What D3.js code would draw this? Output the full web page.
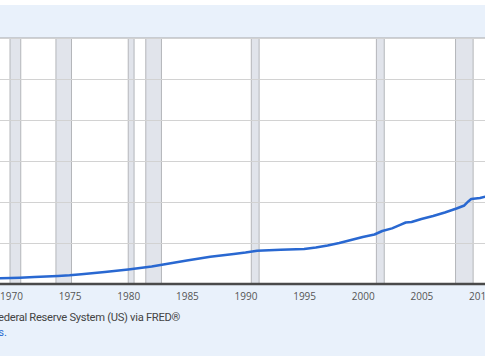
<!DOCTYPE html>
<html>
<head>
<meta charset="utf-8">
<script src="https://cdn.jsdelivr.net/npm/d3@7"></script>
<style>
  html, body { margin: 0; padding: 0; background: #ffffff; }
  svg { display: block; }
</style>
</head>
<body>
<svg id="chart" width="485" height="360"></svg>
<script>
// ---- data ----
const dates = ["1969-01","1970-01","1970-10","1972-01","1974-01","1975-01","1976-01","1978-01",
  "1980-01","1982-01","1983-01","1985-01","1987-01","1989-01","1990-01","1991-01","1993-01",
  "1995-01","1996-01","1997-01","1998-01","1999-01","2000-01","2001-01","2001-09","2002-07",
  "2003-04","2003-09","2004-03","2005-01","2006-01","2007-01","2008-01","2008-09","2009-01",
  "2009-04","2010-01","2010-07"];
const values = [556,585,615,680,780,850,950,1170,
  1415,1710,1900,2290,2660,2930,3070,3240,3340,
  3415,3560,3760,4000,4290,4590,4830,5170,5430,
  5800,6000,6050,6340,6630,6980,7370,7660,8050,
  8290,8390,8540];
const tickYears = [1970,1975,1980,1985,1990,1995,2000,2005,2010];
const yTicks = [0,4000,8000,12000,16000,20000,24000];
const recessions = [["1969-12","1970-11"],["1973-11","1975-03"],["1980-01","1980-07"],
  ["1981-07","1982-11"],["1990-07","1991-03"],["2001-03","2001-11"],["2007-12","2009-06"]];
const sourceLine = "Source: Board of Governors of the Federal Reserve System (US) via FRED®";
const noteLine = "Shaded areas indicate U.S. recessions.";

// ---- drawing ----
const W = 485, H = 360;
const parse = d3.timeParse("%Y-%m");
const svg = d3.select("#chart");

const plot = { left: 0, right: 485, top: 38, bottom: 284 };

svg.append("rect").attr("x", 0).attr("y", 5).attr("width", W).attr("height", 351)
  .attr("fill", "#e9f1fb");

const x = d3.scaleTime()
  .domain([new Date(1970, 0, 1), new Date(2010, 0, 1)])
  .range([11, 480]);
const y = d3.scaleLinear().domain([0, 24000]).range([plot.bottom, plot.top]);

svg.append("defs").append("clipPath").attr("id", "clip")
  .append("rect").attr("x", plot.left).attr("y", plot.top)
  .attr("width", plot.right - plot.left).attr("height", plot.bottom - plot.top);

const g = svg.append("g").attr("clip-path", "url(#clip)");
g.append("rect").attr("x", plot.left).attr("y", plot.top)
  .attr("width", plot.right - plot.left).attr("height", plot.bottom - plot.top)
  .attr("fill", "#ffffff");

// recession bands
recessions.forEach(([a, b]) => {
  const x0 = x(parse(a)), x1 = x(parse(b));
  g.append("rect").attr("x", x0).attr("y", plot.top).attr("width", x1 - x0)
    .attr("height", plot.bottom - plot.top).attr("fill", "#e1e4eb");
  [x0, x1].forEach(xx => g.append("line")
    .attr("x1", xx).attr("x2", xx).attr("y1", plot.top).attr("y2", plot.bottom)
    .attr("stroke", "#b4b6ba").attr("stroke-width", 1));
});

// horizontal grid
g.selectAll("line.grid").data(yTicks).join("line").attr("class", "grid")
  .attr("x1", plot.left).attr("x2", plot.right)
  .attr("y1", d => Math.round(y(d)) + 0.5).attr("y2", d => Math.round(y(d)) + 0.5)
  .attr("stroke", "#d2d2d2").attr("stroke-width", 1);

// top border
svg.append("line").attr("x1", 0).attr("x2", W).attr("y1", 37.5).attr("y2", 37.5)
  .attr("stroke", "#c8ccd2").attr("stroke-width", 1);

// line
const pts = dates.map((d, i) => [parse(d), values[i]]);
g.append("path").datum(pts)
  .attr("d", d3.line().x(d => x(d[0])).y(d => y(d[1])))
  .attr("fill", "none").attr("stroke", "#2968d1").attr("stroke-width", 2.5)
  .attr("stroke-linejoin", "round").attr("stroke-linecap", "round");

// x axis
const axis = d3.axisBottom(x)
  .tickValues(tickYears.map(yr => new Date(yr, 0, 1)))
  .tickFormat(d3.timeFormat("%Y")).tickSize(0).tickPadding(9);
const ag = svg.append("g").attr("transform", `translate(0,${plot.bottom})`).call(axis);
ag.select(".domain").remove();
ag.selectAll("text").attr("font-family", "'Open Sans', sans-serif")
  .attr("font-size", 10).attr("fill", "#555555");
svg.append("line").attr("x1", 0).attr("x2", W).attr("y1", plot.bottom).attr("y2", plot.bottom)
  .attr("stroke", "#4a4a4a").attr("stroke-width", 2.5);

// footer text
svg.append("text").attr("x", 180).attr("y", 321).attr("text-anchor", "end")
  .attr("font-family", "Roboto, sans-serif").attr("font-size", 11.2)
  .attr("letter-spacing", -0.3).attr("fill", "#444444")
  .text(sourceLine);
svg.append("text").attr("x", 7).attr("y", 335.5).attr("text-anchor", "end")
  .attr("font-family", "Roboto, sans-serif").attr("font-size", 11.2).attr("fill", "#2a6bd1")
  .text(noteLine);
</script>
</body>
</html>
